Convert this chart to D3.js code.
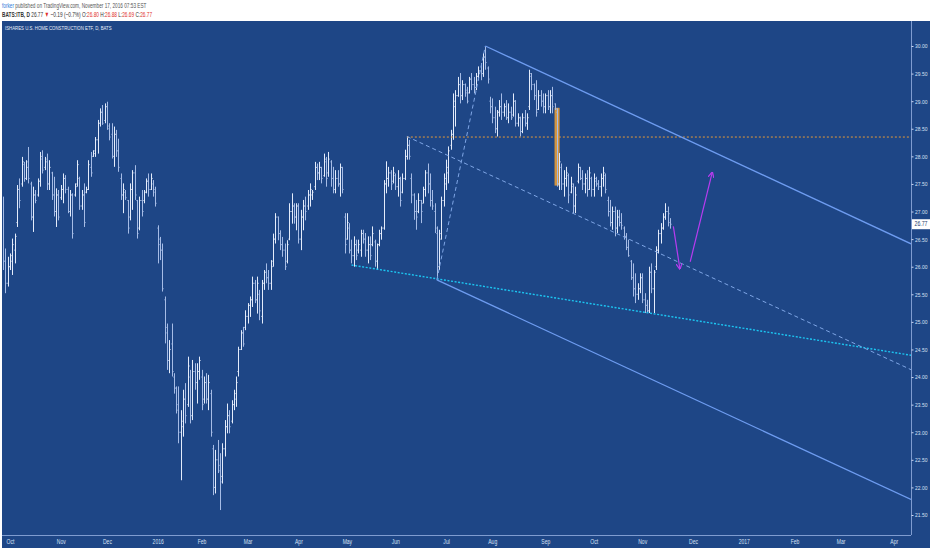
<!DOCTYPE html>
<html><head><meta charset="utf-8">
<script src="https://cdn.jsdelivr.net/npm/d3@7"></script>
<style>
body{margin:0;background:#fff;}
svg{display:block;font-family:"Liberation Sans",Arial,sans-serif;}
</style>
</head><body>
<svg id="c" width="932" height="550"></svg>
<script>
// ---------------- DATA ----------------
const startDate = "2015-09-28";
const lastBarDate = "2016-11-17";
const holidays = ["2015-11-26","2015-12-25","2016-01-01","2016-01-18","2016-02-15","2016-03-25","2016-05-30","2016-07-04","2016-09-05"];
const monthLabels = ["Oct","Nov","Dec","2016","Feb","Mar","Apr","May","Jun","Jul","Aug","Sep","Oct","Nov","Dec","2017","Feb","Mar","Apr"];
const priceTicks = [21.5,22,22.5,23,23.5,24,24.5,25,25.5,26,26.5,27,27.5,28,28.5,29,29.5,30];
const lastPrice = 26.77;

const highs = [
27.27,26.33,26.18,26.24,26.51,26.60,27.48,27.60,27.99,27.90,
27.93,28.17,27.54,27.45,27.39,27.60,28.08,28.11,27.99,28.05,
27.93,27.72,27.63,27.42,27.39,27.48,27.69,27.66,27.45,27.39,
27.33,27.51,27.93,27.63,27.39,27.51,27.45,27.93,28.08,28.11,
28.35,28.66,28.87,28.93,28.96,28.99,28.60,28.60,28.54,28.48,
28.32,27.69,27.51,27.39,27.21,27.51,27.75,27.84,27.21,27.27,
27.39,27.39,27.60,27.69,27.69,27.57,27.45,26.75,26.54,26.42,
25.46,24.97,24.67,24.97,24.07,23.83,23.83,23.40,23.77,23.89,
24.37,24.13,24.31,24.25,24.25,24.37,24.13,24.01,24.07,24.04,
23.77,22.77,22.68,22.86,22.62,22.80,23.22,23.52,23.40,23.58,
23.77,24.01,24.55,24.85,24.91,25.21,25.34,25.46,25.82,25.76,
25.82,25.58,25.76,25.94,26.06,25.94,26.12,26.60,26.97,26.91,
26.66,26.54,26.42,26.48,27.15,27.33,27.15,27.15,27.15,27.03,
27.21,27.27,27.39,27.51,27.39,27.90,27.87,27.90,27.81,28.05,
27.99,28.08,27.93,27.81,27.75,27.75,27.87,27.81,26.97,26.97,
26.79,26.49,26.55,26.49,26.49,26.67,26.67,26.61,26.55,26.55,
26.73,26.49,26.42,26.67,26.73,27.57,27.91,27.81,27.75,27.81,
27.69,27.75,27.63,27.69,28.12,28.36,28.30,27.69,27.33,27.21,
27.33,27.21,27.45,27.75,27.87,27.69,27.39,27.15,26.73,26.67,
27.27,27.69,27.94,28.18,28.48,29.14,29.20,29.44,29.51,29.38,
29.32,29.26,29.44,29.51,29.44,29.51,29.63,29.69,29.87,29.99,
29.63,29.08,29.05,28.90,28.84,29.02,29.14,28.96,29.02,28.96,
28.90,29.14,29.02,28.78,28.72,28.78,28.84,28.78,29.57,29.51,
29.32,29.38,29.20,29.20,29.14,29.14,29.20,29.20,29.26,28.96,
28.87,28.06,27.87,27.75,27.81,27.69,27.63,27.51,27.45,27.87,
27.81,27.75,27.69,27.75,27.81,27.63,27.69,27.63,27.57,27.69,
27.81,27.69,27.27,27.21,27.09,27.09,27.03,27.03,26.97,26.73,
26.61,26.49,26.12,26.06,25.88,25.70,25.88,25.88,25.52,25.40,
26.00,26.06,25.94,26.37,26.67,26.79,26.97,27.15,27.09,26.88];

const lows = [
25.94,25.52,25.64,25.94,25.85,26.06,26.72,27.06,27.45,27.54,
27.57,27.51,26.84,26.63,27.15,27.27,27.45,27.69,27.75,27.39,
27.39,27.21,26.91,26.72,26.84,27.21,27.15,27.33,26.97,26.91,
26.51,27.27,27.45,27.03,27.03,26.72,27.33,27.39,27.63,27.99,
27.99,28.05,28.54,28.57,28.60,28.48,28.29,27.96,27.81,27.99,
27.72,27.21,26.97,27.21,26.60,26.84,27.03,27.21,26.51,26.66,
26.91,27.15,27.33,27.27,27.39,27.27,27.09,26.06,26.12,25.55,
24.61,24.13,24.07,24.01,23.70,23.34,22.80,22.13,22.92,23.16,
23.46,23.16,23.22,23.77,23.52,23.95,23.40,23.52,23.52,23.40,
22.92,21.86,21.89,22.26,21.59,22.07,22.56,22.98,22.98,23.16,
23.40,23.46,24.01,24.49,24.55,24.85,24.97,25.09,25.27,25.34,
25.15,25.03,24.97,25.58,25.70,25.58,25.58,26.00,26.42,26.48,
26.30,26.18,25.94,26.06,26.48,26.78,26.78,26.66,26.42,26.30,
26.66,26.84,27.03,27.09,27.21,27.39,27.57,27.57,27.51,27.63,
27.45,27.63,27.45,27.33,27.33,27.45,27.27,27.33,26.24,26.49,
26.24,26.06,26.00,26.12,26.24,26.18,26.42,26.18,26.06,26.12,
26.37,26.00,25.94,26.37,26.49,26.67,27.33,27.45,27.39,27.51,
27.39,27.27,27.09,27.33,27.57,27.94,27.94,27.15,26.85,26.67,
26.97,26.79,27.15,27.27,27.33,27.09,27.03,26.61,25.79,25.94,
26.49,27.09,27.39,27.51,28.12,28.30,28.54,29.08,28.96,29.02,
29.08,28.96,29.14,29.20,29.14,29.20,29.38,29.38,29.44,29.57,
29.32,28.78,28.60,28.42,28.36,28.72,28.66,28.72,28.66,28.60,
28.66,28.72,28.54,28.54,28.36,28.42,28.54,28.48,28.84,29.20,
29.02,28.72,28.84,28.90,28.78,28.78,28.84,28.78,28.78,28.84,
27.45,27.39,27.39,27.27,27.45,27.15,27.33,26.97,26.97,27.51,
27.57,27.39,27.33,27.27,27.39,27.27,27.27,27.45,27.39,27.27,
27.45,27.33,26.91,26.73,26.67,26.55,26.61,26.73,26.67,26.49,
26.30,26.18,25.76,25.46,25.34,25.40,25.52,25.34,25.16,25.16,
25.16,25.52,25.16,25.94,26.24,26.42,26.67,26.85,26.73,26.69];

const opens = [
27.20,26.10,25.70,26.00,26.10,26.30,26.80,27.40,27.50,27.85,
27.60,27.90,27.50,26.90,27.30,27.30,27.55,27.95,27.80,27.95,
27.50,27.70,27.30,27.00,27.30,27.25,27.40,27.60,27.40,27.00,
27.30,27.30,27.50,27.60,27.10,27.30,27.35,27.40,27.80,28.00,
28.05,28.30,28.60,28.80,28.65,28.90,28.50,28.40,28.00,28.40,
28.10,27.60,27.30,27.35,27.20,26.90,27.40,27.70,27.20,26.70,
27.20,27.20,27.35,27.55,27.40,27.50,27.40,26.70,26.40,26.30,
25.40,24.90,24.30,24.60,24.00,23.80,23.40,23.00,23.10,23.60,
23.50,24.00,23.30,24.10,23.90,24.10,24.00,23.60,23.90,23.60,
23.70,22.70,22.00,22.50,22.30,22.20,22.70,23.10,23.30,23.20,
23.50,23.60,24.10,24.50,24.80,24.90,25.10,25.30,25.40,25.70,
25.40,25.50,25.10,25.70,25.90,25.80,25.70,26.10,26.50,26.90,
26.60,26.40,26.30,26.10,26.50,27.00,27.10,26.90,27.10,26.50,
26.90,27.10,27.10,27.30,27.30,27.45,27.80,27.70,27.80,27.65,
27.90,27.70,27.90,27.60,27.40,27.60,27.50,27.80,26.90,26.50,
26.70,26.30,26.20,26.40,26.30,26.30,26.60,26.50,26.30,26.40,
26.40,26.45,26.10,26.40,26.60,26.70,27.50,27.60,27.70,27.55,
27.65,27.45,27.60,27.35,27.60,28.00,28.20,27.60,27.30,27.00,
27.00,27.20,27.15,27.40,27.70,27.50,27.20,27.00,26.60,26.00,
26.60,27.20,27.50,27.70,28.20,28.40,28.90,29.10,29.30,29.10,
29.30,29.20,29.15,29.40,29.30,29.25,29.45,29.55,29.50,29.80,
29.60,29.00,28.90,28.70,28.50,28.80,28.90,28.80,28.90,28.70,
28.80,28.75,29.00,28.60,28.70,28.45,28.70,28.60,28.90,29.45,
29.30,29.10,28.85,29.10,29.00,28.90,29.10,28.90,29.10,28.95,
28.80,27.50,27.80,27.50,27.60,27.65,27.35,27.45,27.10,27.55,
27.80,27.60,27.50,27.60,27.40,27.60,27.40,27.55,27.50,27.45,
27.60,27.65,27.20,27.00,26.80,27.00,26.70,26.90,26.80,26.70,
26.55,26.35,26.10,25.80,25.60,25.50,25.60,25.80,25.40,25.30,
25.20,25.90,25.60,26.00,26.30,26.60,26.70,26.90,27.00,26.80];

const closes = [
26.10,25.70,26.00,26.20,26.40,26.55,27.40,27.20,27.90,27.60,
27.80,27.60,26.90,27.30,27.20,27.55,28.00,27.75,27.90,27.50,
27.80,27.30,27.00,27.30,26.90,27.40,27.60,27.40,27.00,27.30,
26.60,27.45,27.85,27.10,27.30,26.80,27.40,27.85,27.70,28.10,
28.30,28.60,28.80,28.60,28.90,28.55,28.35,28.00,28.40,28.10,
27.80,27.30,27.40,27.25,26.70,27.40,27.70,27.30,26.60,27.20,
27.00,27.35,27.55,27.40,27.60,27.35,27.15,26.50,26.30,25.60,
24.80,24.30,24.50,24.10,23.80,23.50,23.00,23.20,23.60,23.30,
24.20,23.30,24.10,23.90,24.10,24.30,23.50,23.90,23.60,23.90,
23.00,22.00,22.50,22.40,22.10,22.70,23.10,23.30,23.10,23.50,
23.70,23.90,24.50,24.80,24.60,25.10,25.30,25.40,25.70,25.40,
25.70,25.20,25.70,25.90,25.80,25.70,26.00,26.50,26.90,26.60,
26.40,26.30,26.00,26.40,27.00,27.10,26.90,27.10,26.50,26.90,
27.10,27.00,27.30,27.40,27.35,27.80,27.70,27.80,27.60,27.95,
27.60,27.95,27.60,27.40,27.60,27.50,27.80,27.40,26.40,26.80,
26.30,26.20,26.40,26.20,26.40,26.60,26.50,26.30,26.40,26.20,
26.60,26.10,26.40,26.60,26.70,27.50,27.60,27.70,27.50,27.70,
27.45,27.60,27.20,27.60,28.00,28.20,28.00,27.30,27.00,26.90,
27.20,27.00,27.40,27.70,27.50,27.20,27.10,26.70,25.90,26.50,
27.20,27.60,27.80,28.10,28.40,29.00,29.10,29.30,29.10,29.30,
29.15,29.00,29.40,29.30,29.20,29.45,29.55,29.50,29.80,29.70,
29.40,28.90,28.70,28.50,28.80,28.90,28.80,28.90,28.70,28.80,
28.70,29.00,28.60,28.70,28.45,28.70,28.60,28.70,29.50,29.30,
29.10,28.80,29.10,29.00,28.90,29.10,28.90,29.10,28.90,28.86,
27.50,27.90,27.50,27.60,27.70,27.30,27.50,27.10,27.30,27.80,
27.60,27.50,27.60,27.40,27.70,27.40,27.60,27.50,27.45,27.60,
27.70,27.40,27.00,26.80,27.00,26.70,26.90,26.80,26.75,26.55,
26.35,26.20,25.80,25.60,25.50,25.60,25.80,25.40,25.30,25.20,
25.90,25.60,25.90,26.30,26.60,26.70,26.90,27.00,26.96,26.77];

// drawings: [barIndex, price] anchors
const channelTop    = [[209, 30.00], [293.4, 28.36]];
const channelBottom = [[188, 25.76], [293.4, 23.72]];
const medianLine    = [[175, 28.36], [293.4, 26.07]];
const steepLine     = [[188, 25.76], [209, 30.00]];
const cyanLine      = [[151, 26.03], [293.4, 25.07]];
const orangeLevel   = [[175, 28.35], [393.5, 28.35]];
const orangeBox     = {i0: 239.0, i1: 241.2, p0: 27.47, p1: 28.88};
const arrowDown     = [[290.5, 26.73], [293.3, 25.97]];
const arrowUp       = [[297.8, 26.09], [307.3, 27.70]];

// ---------------- BUILD ----------------
const svg = d3.select("#c");
const W = 932, H = 550;
const plot = {l: 3, r: 911, t: 21, b: 535};
const BLUE = "#1e4686";

// trading dates (past bars skip holidays, future projected bars are all weekdays)
const parse = d3.utcParse("%Y-%m-%d"), fmt = d3.utcFormat("%Y-%m-%d");
const hol = new Set(holidays);
const dates = [];
let d = parse(startDate);
const lastD = parse(lastBarDate);
while (dates.length < 395) {
  const wd = d.getUTCDay();
  if (wd !== 0 && wd !== 6 && !(d <= lastD && hol.has(fmt(d)))) dates.push(new Date(d));
  d = d3.utcDay.offset(d, 1);
}
const monthStarts = [];
dates.forEach((dt, i) => { if (i > 0 && dt.getUTCMonth() !== dates[i-1].getUTCMonth()) monthStarts.push(i); });

const x = d3.scaleLinear().domain([0, 393.5]).range([3.1, plot.r]);
const y = d3.scaleLinear().domain([21.5, 30]).range([515, 46]);

// background
svg.append("rect").attr("width", W).attr("height", H).attr("fill", "#fff");
svg.append("rect").attr("x", 2).attr("y", plot.t).attr("width", 928).attr("height", 527).attr("fill", BLUE);

svg.append("defs").append("clipPath").attr("id", "clip")
  .append("rect").attr("x", plot.l).attr("y", plot.t).attr("width", plot.r - plot.l).attr("height", plot.b - plot.t);

// header
function fitGroup(g, target) {
  const bb = g.node().getBBox();
  const s = target / bb.width;
  g.attr("transform", `translate(${g.attr("data-x")},${g.attr("data-y")}) scale(${s},1)`);
}
const h1 = svg.append("g").attr("data-x", 2).attr("data-y", 8);
const t1 = h1.append("text").attr("font-size", 7.4).attr("fill", "#555");
t1.append("tspan").attr("fill", "#2f7ad8").text("forker");
t1.append("tspan").text(" published on TradingView.com, November 17, 2016 07:53 EST");
fitGroup(h1, 145);

const h2 = svg.append("g").attr("data-x", 2).attr("data-y", 17);
const t2 = h2.append("text").attr("font-size", 7.4).attr("fill", "#333");
t2.append("tspan").attr("font-weight", "bold").text("BATS:ITB, D");
t2.append("tspan").text(" 26.77 ");
t2.append("tspan").attr("fill", "#e0302a").text("▼");
t2.append("tspan").text(" −0.19 (−0.7%) O:");
t2.append("tspan").attr("fill", "#e0302a").text("26.80");
t2.append("tspan").text(" H:");
t2.append("tspan").attr("fill", "#e0302a").text("26.88");
t2.append("tspan").text(" L:");
t2.append("tspan").attr("fill", "#e0302a").text("26.69");
t2.append("tspan").text(" C:");
t2.append("tspan").attr("fill", "#e0302a").text("26.77");
fitGroup(h2, 150);

const h3 = svg.append("g").attr("data-x", 5).attr("data-y", 30);
h3.append("text").attr("font-size", 6).attr("fill", "#e8eefa").text("ISHARES U.S. HOME CONSTRUCTION ETF, D, BATS");
fitGroup(h3, 107);

// axes separators
svg.append("line").attr("x1", plot.r + 0.5).attr("x2", plot.r + 0.5).attr("y1", plot.t).attr("y2", plot.b)
  .attr("stroke", "#7f9cd0").attr("stroke-width", 1);
svg.append("line").attr("x1", 2).attr("x2", plot.r).attr("y1", plot.b + 0.5).attr("y2", plot.b + 0.5)
  .attr("stroke", "#7f9cd0").attr("stroke-width", 1);

// price axis
const yAxis = svg.append("g").attr("transform", `translate(${plot.r + 0.5},0)`)
  .call(d3.axisRight(y).tickValues(priceTicks).tickSize(2).tickPadding(1.5).tickFormat(d3.format(".2f")));
yAxis.select(".domain").remove();
yAxis.selectAll(".tick line").attr("stroke", "#c8d4ee");
yAxis.selectAll(".tick text").attr("fill", "#d6e0f4").attr("font-size", 6)
  .attr("font-family", "'Liberation Sans',Arial,sans-serif")
  .attr("textLength", 12.4).attr("lengthAdjust", "spacingAndGlyphs");

// time axis
const xAxis = svg.append("g").attr("transform", `translate(0,${plot.b + 0.5})`)
  .call(d3.axisBottom(x).tickValues(monthStarts).tickSize(0).tickPadding(4)
    .tickFormat((v, i) => monthLabels[i]));
xAxis.select(".domain").remove();
xAxis.selectAll(".tick text").attr("fill", "#d6e0f4").attr("font-size", 6.3)
  .attr("font-family", "'Liberation Sans',Arial,sans-serif")
  .each(function() {
    const w = this.getComputedTextLength();
    d3.select(this).attr("textLength", w * 0.8).attr("lengthAdjust", "spacingAndGlyphs");
  });

const plotG = svg.append("g").attr("clip-path", "url(#clip)");

// orange highlight box (behind bars)
plotG.append("rect")
  .attr("x", x(orangeBox.i0)).attr("width", x(orangeBox.i1) - x(orangeBox.i0))
  .attr("y", y(orangeBox.p1)).attr("height", y(orangeBox.p0) - y(orangeBox.p1))
  .attr("fill", "#dc9a3e").attr("opacity", 0.95);

// OHLC bars
const bars = d3.range(highs.length).map(i => ({i, o: opens[i], h: highs[i], l: lows[i], c: closes[i]}));
const UP = "#e4ecfb", DOWN = "#a6bce6";
const bg = plotG.append("g");
const px = i => Math.round(x(i)) + 0.5;
bg.selectAll("line.hl").data(bars).join("line").attr("class", "hl")
  .attr("x1", b => px(b.i)).attr("x2", b => px(b.i))
  .attr("y1", b => y(b.h)).attr("y2", b => y(b.l))
  .attr("stroke", b => b.c >= b.o ? UP : DOWN).attr("stroke-width", 1);
bg.selectAll("line.op").data(bars).join("line").attr("class", "op")
  .attr("x1", b => px(b.i) - 1.2).attr("x2", b => px(b.i))
  .attr("y1", b => y(b.o)).attr("y2", b => y(b.o))
  .attr("stroke", b => b.c >= b.o ? UP : DOWN).attr("stroke-width", 0.8);
bg.selectAll("line.cl").data(bars).join("line").attr("class", "cl")
  .attr("x1", b => px(b.i)).attr("x2", b => px(b.i) + 1.2)
  .attr("y1", b => y(b.c)).attr("y2", b => y(b.c))
  .attr("stroke", b => b.c >= b.o ? UP : DOWN).attr("stroke-width", 0.8);

// drawing helpers
function extendRight(pts) {
  const [a, b] = pts;
  const slope = (b[1] - a[1]) / (b[0] - a[0]);
  const end = 393.5;
  return [a, [end, a[1] + slope * (end - a[0])]];
}
function drawLine(pts, color, width, dash) {
  plotG.append("line")
    .attr("x1", x(pts[0][0])).attr("y1", y(pts[0][1]))
    .attr("x2", x(pts[1][0])).attr("y2", y(pts[1][1]))
    .attr("stroke", color).attr("stroke-width", width)
    .attr("stroke-dasharray", dash || null);
}
drawLine(orangeLevel, "#e39a3a", 1, "2,2");
drawLine(extendRight(cyanLine), "#1cc6f2", 1.4, "2,1.6");
drawLine(extendRight(medianLine), "#7fa6e6", 1, "4,3");
drawLine(steepLine, "#7fa6e6", 1, "4,3");
drawLine(extendRight(channelTop), "#6e9cf0", 1.3);
drawLine(extendRight(channelBottom), "#6e9cf0", 1.3);

// purple arrows
const defs = svg.select("defs");
defs.append("marker").attr("id", "ah").attr("viewBox", "0 0 10 10").attr("refX", 8).attr("refY", 5)
  .attr("markerWidth", 5).attr("markerHeight", 5).attr("orient", "auto")
  .append("path").attr("d", "M0,0 L10,5 L0,10").attr("fill", "none").attr("stroke", "#b83cf0").attr("stroke-width", 2);
[arrowDown, arrowUp].forEach(a => {
  plotG.append("line")
    .attr("x1", x(a[0][0])).attr("y1", y(a[0][1]))
    .attr("x2", x(a[1][0])).attr("y2", y(a[1][1]))
    .attr("stroke", "#b83cf0").attr("stroke-width", 1.2).attr("marker-end", "url(#ah)");
});

// last price label
const lp = svg.append("g");
lp.append("rect").attr("x", plot.r + 1).attr("y", y(lastPrice) - 5).attr("width", 18).attr("height", 10)
  .attr("fill", "#ffffff");
lp.append("text").attr("x", plot.r + 3.5).attr("y", y(lastPrice)).attr("dy", "0.35em")
  .attr("font-size", 6.3).attr("fill", "#1e3a6e")
  .attr("textLength", 13).attr("lengthAdjust", "spacingAndGlyphs").text(d3.format(".2f")(lastPrice));
</script>
</body></html>
